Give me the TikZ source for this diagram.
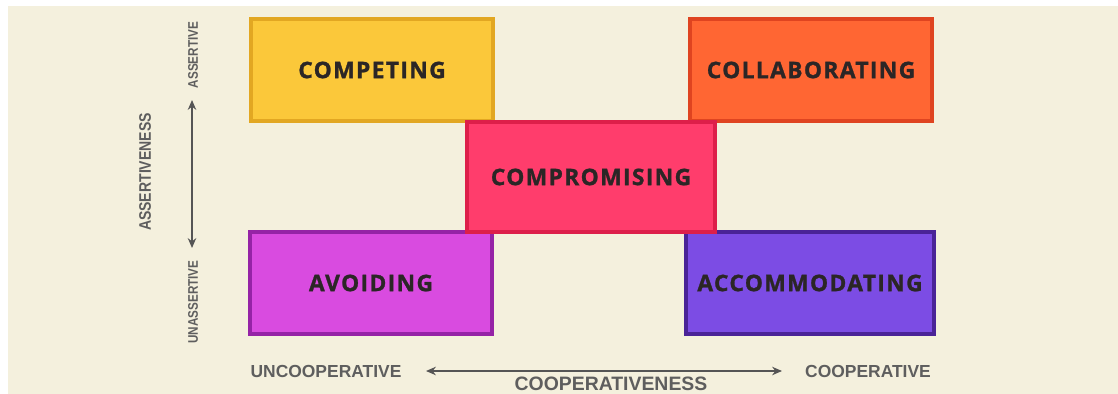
\documentclass[tikz,border=0pt]{standalone}
\usepackage{fontspec}
\usepackage{tikz}
\usepackage{xcolor}
\usetikzlibrary{arrows.meta}
\newfontfamily\boxfont[LetterSpace=6,BoldFeatures={FakeBold=1.2}]{Open Sans}
\newfontfamily\axisfont{Liberation Sans}
\newfontfamily\narrowfont[FakeStretch=0.84]{Liberation Sans}
\definecolor{bgcream}{HTML}{F4F0DD}
\definecolor{txtdark}{HTML}{2B2626}
\definecolor{axgray}{HTML}{5E5E5E}
\definecolor{cpfill}{HTML}{FBC83A}
\definecolor{cpline}{HTML}{E2A722}
\definecolor{clfill}{HTML}{FF6633}
\definecolor{clline}{HTML}{DF4420}
\definecolor{cofill}{HTML}{FF3D6C}
\definecolor{coline}{HTML}{DD1F4A}
\definecolor{avfill}{HTML}{D94BE0}
\definecolor{avline}{HTML}{9523A6}
\definecolor{acfill}{HTML}{7C4CE4}
\definecolor{acline}{HTML}{4A2397}

\begin{document}
\begin{tikzpicture}[x=0.025cm, y=-0.025cm,
    mode/.style={line width=3.4pt, minimum width=6.05cm, minimum height=2.55cm,
                 inner sep=0pt, text=txtdark, font=\boxfont\bfseries\fontsize{16.2}{18}\selectfont},
    axlbl/.style={text=axgray, inner sep=0pt, font=\axisfont\bfseries\fontsize{12.4}{14}\selectfont},
    vlbl/.style={text=axgray, inner sep=0pt, rotate=90, font=\narrowfont\bfseries\fontsize{9.9}{11}\selectfont},
    arr/.style={{Stealth[length=7pt,width=6pt]}-{Stealth[length=7pt,width=6pt]}, line width=1.4pt, color=axgray!90!black}
]
  \useasboundingbox (0,0) rectangle (1118,394);
  \fill[white] (0,0) rectangle (1118,394);
  \fill[bgcream] (8,6) rectangle (1118,394);

  % the five conflict modes
  \node[mode, draw=cpline, fill=cpfill] (competing) at (372,70) {COMPETING};
  \node[mode, draw=clline, fill=clfill] (collab) at (811,70) {COLLABORATING};
  \node[mode, draw=avline, fill=avfill] (avoiding) at (371,283) {AVOIDING};
  \node[mode, draw=acline, fill=acfill, minimum width=6.2cm] (accom) at (810,283) {ACCOMMODATING};
  \node[mode, draw=coline, fill=cofill, minimum width=6.2cm, minimum height=2.75cm] (comprom) at (591,177) {COMPROMISING};

  % vertical axis
  \node[vlbl] (assert) at (193,55) {ASSERTIVE};
  \node[vlbl] (unassert) at (193,302) {UNASSERTIVE};
  \node[vlbl, font=\narrowfont\bfseries\fontsize{11.9}{13}\selectfont] (assertness) at (145,172) {ASSERTIVENESS};
  \coordinate (vtop) at (192,100);
  \coordinate (vbot) at (192,248);
  \draw[arr] (vtop) -- (vbot);

  % horizontal axis
  \node[axlbl] (uncoop) at (326,371) {UNCOOPERATIVE};
  \node[axlbl] (coop) at (868,371) {COOPERATIVE};
  \node[axlbl, font=\axisfont\bfseries\fontsize{13.8}{16}\selectfont] (coopness) at (611,384) {COOPERATIVENESS};
  \coordinate (hleft) at (426,371);
  \coordinate (hright) at (782,371);
  \draw[arr] (hleft) -- (hright);
\end{tikzpicture}
\end{document}
